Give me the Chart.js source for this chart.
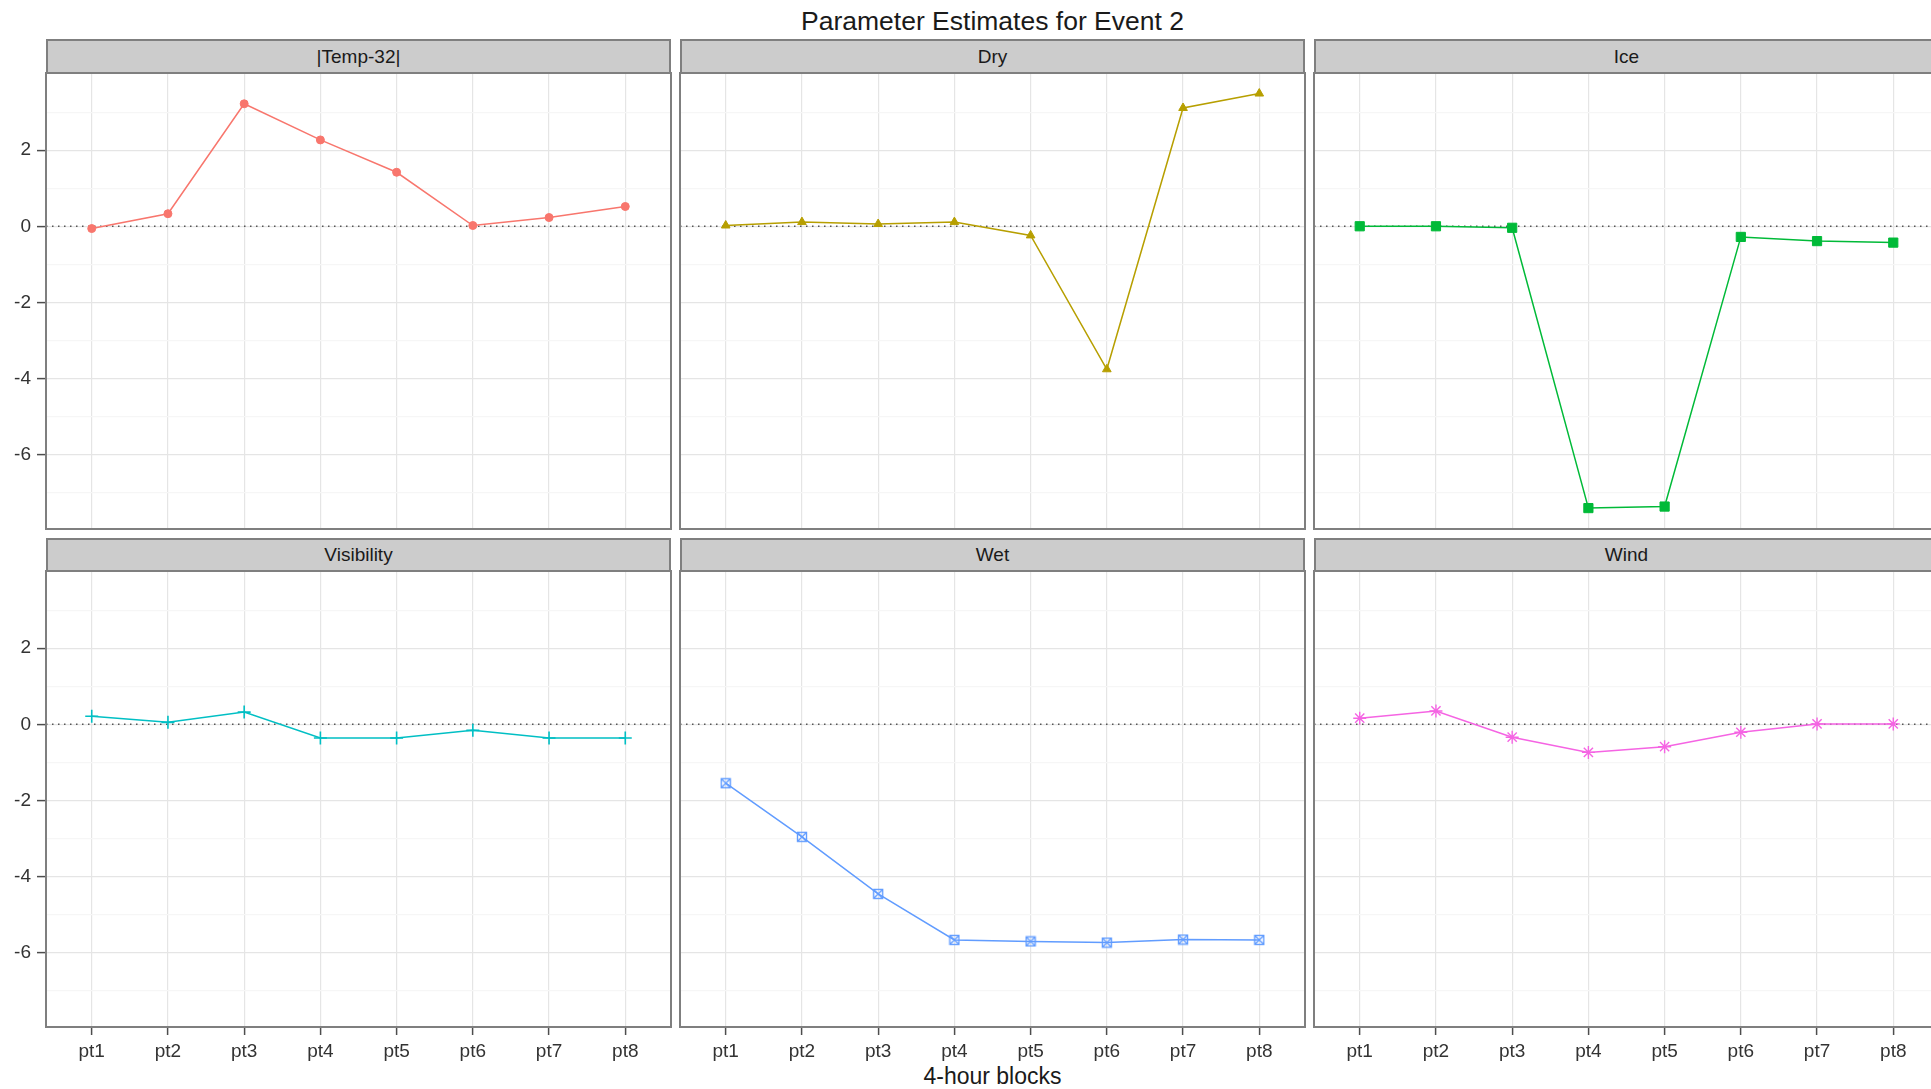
<!DOCTYPE html>
<html>
<head>
<meta charset="utf-8">
<script src="https://cdn.jsdelivr.net/npm/chart.js@4.4.1/dist/chart.umd.min.js"></script>
<style>
  html, body { margin: 0; padding: 0; background: #fff; overflow: hidden; width: 1931px; height: 1089px; }
  body { position: relative; font-family: "Liberation Sans", Arial, sans-serif; }
  .titre { position: absolute; left: 46px; width: 1893px; top: 5px; text-align: center; font-size: 26.5px; line-height: 32px; color: #1a1a1a; }
  .axe-x { position: absolute; left: 46px; width: 1893px; top: 1062px; text-align: center; font-size: 23px; line-height: 28px; color: #1a1a1a; }
  .strip { position: absolute; width: 625px; box-sizing: border-box; background: #cccccc; border: 2px solid #7f7f7f; text-align: center; font-size: 19px; color: #1a1a1a; }
  canvas { position: absolute; }
</style>
</head>
<body>
<div class="titre">Parameter Estimates for Event 2</div>
<div class="axe-x">4-hour blocks</div>
<script>
// catégories de l'axe x et graduations de l'axe y
const categories = ["pt1", "pt2", "pt3", "pt4", "pt5", "pt6", "pt7", "pt8"];
const yTicks = [-6, -4, -2, 0, 2];
const yMinor = [-7, -5, -3, -1, 1, 3];

// noms des panneaux
const panneaux = ["|Temp-32|", "Dry", "Ice", "Visibility", "Wet", "Wind"];

// valeurs
const temp = [-0.06, 0.33, 3.22, 2.27, 1.42, 0.02, 0.23, 0.52];
const dry = [0.02, 0.11, 0.06, 0.11, -0.24, -3.76, 3.11, 3.49];
const ice = [0.0, 0.0, -0.04, -7.41, -7.37, -0.28, -0.39, -0.43];
const visibility = [0.21, 0.05, 0.32, -0.36, -0.36, -0.16, -0.36, -0.36];
const wet = [-1.55, -2.96, -4.46, -5.67, -5.71, -5.74, -5.66, -5.67];
const wind = [0.16, 0.35, -0.34, -0.74, -0.59, -0.21, 0.01, 0.01];

const series = [temp, dry, ice, visibility, wet, wind];
const couleurs = ["#F8766D", "#B79F00", "#00BA38", "#00BFC4", "#619CFF", "#F564E3"];

Chart.defaults.font.family = '"Liberation Sans", Arial, sans-serif';

// carré avec une croix (forme 7 de ggplot)
function carreCroix(couleur) {
  const c = document.createElement("canvas");
  c.width = 12;
  c.height = 12;
  const ctx = c.getContext("2d");
  ctx.strokeStyle = couleur;
  ctx.lineWidth = 1.4;
  ctx.strokeRect(1.5, 1.5, 9, 9);
  ctx.beginPath();
  ctx.moveTo(2, 2); ctx.lineTo(10, 10);
  ctx.moveTo(10, 2); ctx.lineTo(2, 10);
  ctx.stroke();
  return c;
}

const formes = [
  { style: "circle", rayon: 4, bord: 1 },
  { style: "triangle", rayon: 5, bord: 1 },
  { style: "rect", rayon: 6.5, bord: 1 },
  { style: "cross", rayon: 6.5, bord: 1.6 },
  { style: carreCroix(couleurs[4]), rayon: 6, bord: 1 },
  { style: "star", rayon: 6.5, bord: 1.4 },
];

// cadre gris autour de la zone de tracé
const cadre = {
  id: "cadre",
  afterDraw(chart) {
    const { ctx, chartArea: a } = chart;
    ctx.save();
    ctx.strokeStyle = "#7f7f7f";
    ctx.lineWidth = 2;
    ctx.strokeRect(a.left, a.top, a.right - a.left, a.bottom - a.top);
    ctx.restore();
  },
};

// on fige la taille des axes, sans marge pour les étiquettes qui dépassent
function figer(s, taille, vertical) {
  if (vertical) s.width = taille;
  else s.height = taille;
  s.paddingTop = 0;
  s.paddingBottom = 0;
  s.paddingLeft = 0;
  s.paddingRight = 0;
}

const gauches = [46, 680, 1314];
const hauts = [73, 571];
const stripHauts = [39, 538];
const largeur = 625;
const hauteur = 456;

for (let i = 0; i < 6; i++) {
  const col = i % 3;
  const ligne = Math.floor(i / 3);
  const yW = col === 0 ? 46 : 0;
  const xH = ligne === 1 ? 55 : 0;

  const strip = document.createElement("div");
  strip.className = "strip";
  strip.textContent = panneaux[i];
  strip.style.left = gauches[col] + "px";
  strip.style.top = stripHauts[ligne] + "px";
  const h = hauts[ligne] - stripHauts[ligne] + 1;
  strip.style.height = h + "px";
  strip.style.lineHeight = (h - 4) + "px";
  document.body.appendChild(strip);

  const canvas = document.createElement("canvas");
  canvas.width = yW + largeur + 4;
  canvas.height = hauteur + xH + 4;
  canvas.style.left = (gauches[col] - yW - 2) + "px";
  canvas.style.top = (hauts[ligne] - 2) + "px";
  document.body.appendChild(canvas);

  new Chart(canvas, {
    type: "line",
    data: {
      datasets: [
        {
          data: series[i].map((v, k) => ({ x: k + 1, y: v })),
          borderColor: couleurs[i],
          backgroundColor: couleurs[i],
          borderWidth: 1.5,
          pointStyle: formes[i].style,
          pointRadius: formes[i].rayon,
          pointBorderWidth: formes[i].bord,
          order: 1,
        },
        {
          // ligne pointillée à zéro
          data: [{ x: 0.4, y: 0 }, { x: 8.6, y: 0 }],
          borderColor: "#555",
          borderWidth: 1.3,
          borderDash: [1.5, 4.5],
          pointRadius: 0,
          order: 2,
        },
      ],
    },
    options: {
      responsive: false,
      animation: false,
      layout: { padding: 2, autoPadding: false },
      plugins: { legend: { display: false }, tooltip: { enabled: false } },
      scales: {
        x: {
          type: "linear",
          min: 0.4,
          max: 8.6,
          afterBuildTicks: (s) => { s.ticks = categories.map((c, k) => ({ value: k + 1 })); },
          afterFit: (s) => figer(s, xH, false),
          border: { display: false },
          grid: { color: "#e5e5e5", lineWidth: 1.2, drawTicks: ligne === 1, tickLength: 8, tickColor: "#4d4d4d", tickWidth: 1.5 },
          ticks: {
            display: ligne === 1,
            autoSkip: false,
            maxRotation: 0,
            padding: 5,
            color: "#333",
            font: { size: 19 },
            callback: (v) => categories[v - 1],
          },
        },
        y: {
          min: -7.96,
          max: 4.03,
          afterBuildTicks: (s) => {
            s.ticks = yTicks.concat(yMinor).sort((a, b) => a - b).map((v) => ({ value: v }));
          },
          afterFit: (s) => figer(s, yW, true),
          border: { display: false },
          grid: {
            color: (c) => (yTicks.includes(c.tick.value) ? "#e5e5e5" : "#f6f6f6"),
            lineWidth: 1.2,
            drawTicks: col === 0,
            tickLength: 9,
            tickColor: (c) => (yTicks.includes(c.tick.value) ? "#4d4d4d" : "rgba(0,0,0,0)"),
            tickWidth: 1.5,
          },
          ticks: {
            display: col === 0,
            padding: 6,
            color: "#333",
            font: { size: 19 },
            callback: (v) => (yTicks.includes(v) ? String(v) : ""),
          },
        },
      },
    },
    plugins: [cadre],
  });
}
</script>
</body>
</html>
